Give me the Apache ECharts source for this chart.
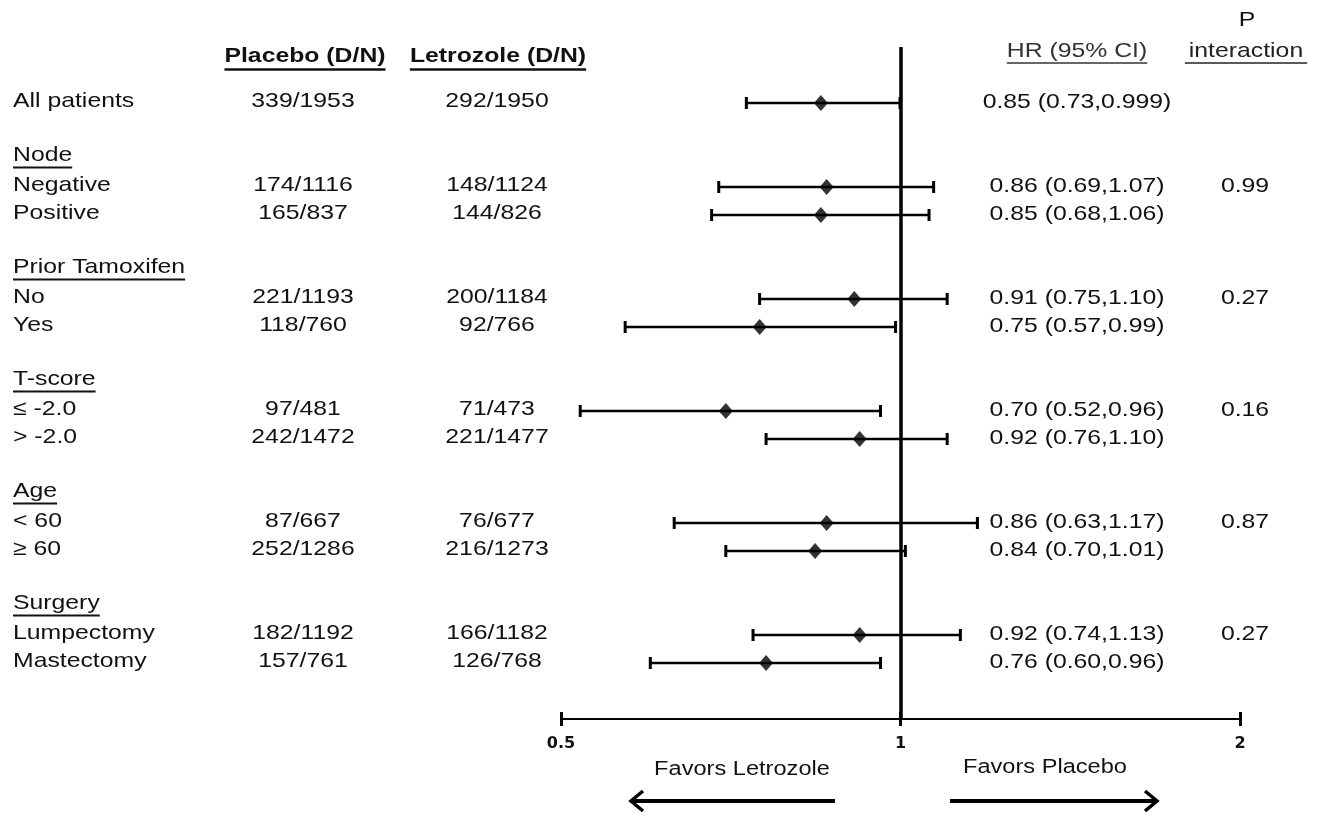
<!DOCTYPE html>
<html>
<head>
<meta charset="utf-8">
<title>Forest plot</title>
<script src="https://cdn.jsdelivr.net/npm/echarts@6/dist/echarts.min.js"></script>
<style>
  html, body { margin: 0; padding: 0; background: #fff; }
  #chart { width: 1326px; height: 816px; }
</style>
</head>
<body>
<div id="chart"></div>
<script>
  // subgroup rows (first row is all patients, then pairs per group)
  const groups = ['Node', 'Prior Tamoxifen', 'T-score', 'Age', 'Surgery']
  const subgroups = ['All patients', 'Negative', 'Positive', 'No', 'Yes', '≤ -2.0', '> -2.0',
    '< 60', '≥ 60', 'Lumpectomy', 'Mastectomy']
  const placeboDN = ['339/1953', '174/1116', '165/837', '221/1193', '118/760', '97/481',
    '242/1472', '87/667', '252/1286', '182/1192', '157/761']
  const letrozoleDN = ['292/1950', '148/1124', '144/826', '200/1184', '92/766', '71/473',
    '221/1477', '76/677', '216/1273', '166/1182', '126/768']
  const hr = [0.85, 0.86, 0.85, 0.91, 0.75, 0.70, 0.92, 0.86, 0.84, 0.92, 0.76]
  const ciLow = [0.73, 0.69, 0.68, 0.75, 0.57, 0.52, 0.76, 0.63, 0.70, 0.74, 0.60]
  const ciHigh = [0.999, 1.07, 1.06, 1.10, 0.99, 0.96, 1.10, 1.17, 1.01, 1.13, 0.96]
  const pInteraction = ['', '0.99', '', '0.27', '', '0.16', '', '0.87', '', '0.27', '']
  const xTicks = [0.5, 1, 2]

  // text in the source is stretched horizontally
  const SX = 1.18
  const FAMILY = '"Liberation Sans", Arial, sans-serif'
  const FONT = '21px ' + FAMILY
  const BOLD = 'bold 21px ' + FAMILY
  const INK = '#111'

  // row slot on the y axis: all patients at 0, each group takes 4 slots
  function rowSlot(i) {
    if (i === 0) return 0
    const g = Math.floor((i - 1) / 2)
    return 3 + 4 * g + (i - 1) % 2
  }
  function groupSlot(k) {
    return 2 + 4 * k
  }

  function fmt(v) {
    return Math.round(v * 100) / 100 === v ? v.toFixed(2) : String(v)
  }

  const measureCtx = document.createElement('canvas').getContext('2d')
  function textW(t, font) {
    measureCtx.font = font
    return measureCtx.measureText(t).width * SX
  }

  function txt(x, y, text, align, font, fill) {
    return {
      type: 'text',
      x: x,
      y: y,
      scaleX: SX,
      style: {
        text: text,
        x: 0,
        y: 0,
        font: font || FONT,
        fill: fill || INK,
        align: align,
        textAlign: align,
        verticalAlign: 'middle',
        textVerticalAlign: 'middle'
      }
    }
  }

  function uline(x1, x2, y, w, color) {
    return {
      type: 'line',
      shape: { x1: x1, y1: y, x2: x2, y2: y },
      style: { stroke: color || '#111', lineWidth: w }
    }
  }

  function centeredHeader(cx, y, text, font, ulY, ulW, color, extra) {
    const w = textW(text, font) + (extra || 0)
    return [
      txt(cx, y, text, 'center', font, color),
      uline(cx - w / 2, cx + w / 2, ulY, ulW, color)
    ]
  }

  const chart = echarts.init(document.getElementById('chart'))

  const option = {
    backgroundColor: '#fff',
    animation: false,
    grid: { left: 561, right: 86, top: 47, bottom: 97, containLabel: false },
    xAxis: [{
      type: 'log',
      logBase: 2,
      min: xTicks[0],
      max: xTicks[xTicks.length - 1],
      axisLine: { show: true, onZero: false, lineStyle: { color: '#000', width: 2 } },
      axisTick: { show: true, length: 7, lineStyle: { color: '#000', width: 3 } },
      axisLabel: {
        show: true,
        margin: 17,
        color: INK,
        fontFamily: '"DejaVu Sans", sans-serif',
        fontWeight: 'bold',
        fontSize: 16,
        showMinLabel: true,
        showMaxLabel: true,
        formatter: function(v) {
          return String(Math.round(v * 100) / 100)
        }
      },
      splitLine: { show: false }
    }, {
      // inner half of the end caps
      type: 'log',
      logBase: 2,
      position: 'bottom',
      offset: 0,
      min: xTicks[0],
      max: xTicks[xTicks.length - 1],
      axisLine: { show: false, onZero: false },
      axisTick: { show: true, inside: true, length: 7, lineStyle: { color: '#000', width: 3 } },
      axisLabel: { show: false },
      splitLine: { show: false }
    }],
    yAxis: {
      type: 'value',
      min: -2,
      max: 22,
      inverse: true,
      show: false
    },
    graphic: {
      elements: [].concat(
        centeredHeader(305, 56, 'Placebo (D/N)', BOLD, 69.5, 2.5),
        centeredHeader(498, 56, 'Letrozole (D/N)', BOLD, 69.5, 2.5),
        centeredHeader(1077, 51, 'HR (95% CI)', FONT, 63, 1.5, '#333'),
        centeredHeader(1246, 51, 'interaction', FONT, 63, 1.5, '#222', 8),
        [
          txt(1247, 20, 'P', 'center'),
          txt(742, 769, 'Favors Letrozole', 'center', '20px ' + FAMILY),
          txt(1045, 767, 'Favors Placebo', 'center', '20px ' + FAMILY),
          // arrows
          uline(632, 835, 801, 4, '#000'),
          {
            type: 'polyline',
            shape: { points: [[643, 791], [631, 801], [643, 811]] },
            style: { stroke: '#000', lineWidth: 3.5, fill: null }
          },
          uline(950, 1156, 801, 4, '#000'),
          {
            type: 'polyline',
            shape: { points: [[1145, 791], [1157, 801], [1145, 811]] },
            style: { stroke: '#000', lineWidth: 3.5, fill: null }
          }
        ]
      )
    },
    series: [
      {
        // table columns
        type: 'custom',
        clip: false,
        silent: true,
        data: subgroups.map((_, i) => [1, rowSlot(i), i]),
        encode: { x: 0, y: 1 },
        renderItem: function(params, api) {
          const i = api.value(2)
          const y = api.coord([1, api.value(1)])[1]
          const children = [
            txt(13, y - 2, subgroups[i], 'left'),
            txt(303, y - 2, placeboDN[i], 'center'),
            txt(497, y - 2, letrozoleDN[i], 'center'),
            txt(1077, y - 1, fmt(hr[i]) + ' (' + fmt(ciLow[i]) + ',' + fmt(ciHigh[i]) + ')', 'center')
          ]
          if (pInteraction[i]) children.push(txt(1245, y - 1, pInteraction[i], 'center'))
          return { type: 'group', children: children }
        },
        z: 3
      },
      {
        // group headers
        type: 'custom',
        clip: false,
        silent: true,
        data: groups.map((_, k) => [1, groupSlot(k), k]),
        encode: { x: 0, y: 1 },
        renderItem: function(params, api) {
          const k = api.value(2)
          const y = api.coord([1, api.value(1)])[1] - 4
          const w = textW(groups[k], FONT)
          return {
            type: 'group',
            children: [
              txt(13, y, groups[k], 'left'),
              uline(13, 13 + w, y + 12.5, 2)
            ]
          }
        },
        z: 3
      },
      {
        // confidence intervals
        type: 'custom',
        clip: false,
        silent: true,
        data: subgroups.map((_, i) => [ciLow[i], ciHigh[i], rowSlot(i)]),
        encode: { x: [0, 1], y: 2 },
        renderItem: function(params, api) {
          const slot = api.value(2)
          const p0 = api.coord([api.value(0), slot])
          const p1 = api.coord([api.value(1), slot])
          const cap = { stroke: '#000', lineWidth: 3 }
          return {
            type: 'group',
            children: [
              { type: 'line', shape: { x1: p0[0], y1: p0[1], x2: p1[0], y2: p1[1] }, style: { stroke: '#000', lineWidth: 2.5 } },
              { type: 'line', shape: { x1: p0[0], y1: p0[1] - 6, x2: p0[0], y2: p0[1] + 6 }, style: cap },
              { type: 'line', shape: { x1: p1[0], y1: p1[1] - 6, x2: p1[0], y2: p1[1] + 6 }, style: cap }
            ]
          }
        },
        z: 4
      },
      {
        // point estimates
        type: 'scatter',
        silent: true,
        symbol: 'diamond',
        symbolSize: [14, 16],
        itemStyle: { color: '#000' },
        data: hr.map((v, i) => [v, rowSlot(i)]),
        markLine: {
          silent: true,
          symbol: 'none',
          label: { show: false },
          lineStyle: { color: '#000', width: 3.5, type: 'solid' },
          data: [{ xAxis: 1 }]
        },
        z: 5
      }
    ]
  }

  chart.setOption(option)
</script>
</body>
</html>
